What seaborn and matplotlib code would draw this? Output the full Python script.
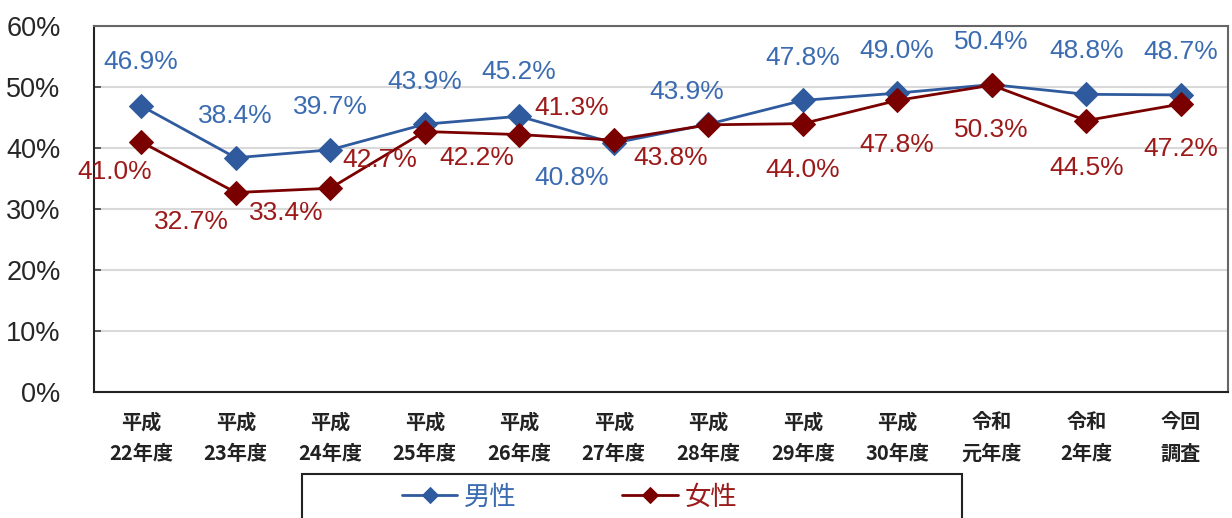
import matplotlib
matplotlib.use("Agg")
import matplotlib.pyplot as plt
import numpy as np
import pandas as pd
import seaborn as sns
from matplotlib.patches import Rectangle
from matplotlib.ticker import FixedLocator, PercentFormatter

categories = ["平成\n22年度", "平成\n23年度", "平成\n24年度", "平成\n25年度", "平成\n26年度",
              "平成\n27年度", "平成\n28年度", "平成\n29年度", "平成\n30年度", "令和\n元年度",
              "令和\n2年度", "今回\n調査"]
male = [46.9, 38.4, 39.7, 43.9, 45.2, 40.8, 43.9, 47.8, 49.0, 50.4, 48.8, 48.7]
female = [41.0, 32.7, 33.4, 42.7, 42.2, 41.3, 43.8, 44.0, 47.8, 50.3, 44.5, 47.2]
series_names = ["男性", "女性"]

# label offsets (pixels) relative to each point
male_offsets = [(0, 44), (0, 42), (0, 43), (0, 42), (0, 44), (-42, -35),
                (-22, 32), (0, 42), (0, 42), (0, 43), (0, 43), (0, 43)]
female_offsets = [(-27, -30), (-44, -29), (-44, -25), (-45, -28), (-42, -23), (-42, 32),
                  (-38, -33), (0, -46), (0, -45), (0, -45), (0, -47), (0, -45)]

line_colors = ["#2F5B9E", "#7A0000"]
text_colors = ["#3B6BB0", "#9C1A1A"]

sns.set_style("white")
plt.rcParams['font.family'] = ['Liberation Sans', 'Noto Sans CJK JP', 'DejaVu Sans']

pos = np.arange(len(categories))
df = pd.DataFrame({
    'pos': np.concatenate([pos, pos]),
    'value': np.array(male + female) / 100,
    'sex': [series_names[0]] * len(pos) + [series_names[1]] * len(pos),
})

fig = plt.figure(figsize=(12.32, 5.18), dpi=100)
ax = fig.add_axes([94 / 1232, 126 / 518, 1134 / 1232, 366 / 518])

for name, lc in zip(series_names, line_colors):
    sub = df[df['sex'] == name]
    sns.lineplot(data=sub, x='pos', y='value', ax=ax, color=lc, marker='D',
                 markersize=12, markeredgecolor=lc, linewidth=2, label=name, zorder=3)

for vals, offs, tc in [(male, male_offsets, text_colors[0]), (female, female_offsets, text_colors[1])]:
    for x, v, (dx, dy) in zip(pos, vals, offs):
        ax.annotate(f"{v:.1f}%", (x, v / 100), xytext=(dx, dy), textcoords='offset pixels',
                    ha='center', va='center', fontsize=19, color=tc, zorder=4)

ax.set_xlim(-0.5, len(categories) - 0.5)
ax.set_ylim(0, 0.6)
ax.yaxis.set_major_locator(FixedLocator(np.arange(0, 0.61, 0.1)))
ax.yaxis.set_major_formatter(PercentFormatter(1.0, decimals=0))
ax.grid(axis='y', color='#D9D9D9', linewidth=1.5, zorder=0)
ax.set_axisbelow(True)

ax.set_xticks(pos)
ax.set_xticklabels(categories, fontfamily=['Noto Sans CJK JP'], fontweight='bold',
                   fontsize=14.5, color='#222222', linespacing=1.6)
ax.xaxis.set_minor_locator(FixedLocator(np.arange(-0.5, len(categories), 1.0)))
ax.tick_params(axis='x', which='major', length=0, pad=14)
ax.tick_params(axis='x', which='minor', direction='in', length=5, width=1.2, color='#444444')
ax.tick_params(axis='y', direction='in', length=5, width=1.2, color='#444444',
               labelsize=19.5, pad=24, left=True)
ax.set_xlabel('')
ax.set_ylabel('')

for side in ['left', 'bottom']:
    ax.spines[side].set_color('#222222')
    ax.spines[side].set_linewidth(1.5)
for side in ['top', 'right']:
    ax.spines[side].set_color('#666666')
    ax.spines[side].set_linewidth(1.5)

ax.get_legend().remove()
handles, labels = ax.get_legend_handles_labels()
leg = fig.legend(handles, labels, loc='center left', bbox_to_anchor=(402 / 1232, 1 - 497 / 518),
                 ncol=2, frameon=False, handlelength=2.1, handletextpad=0.25, markerscale=0.7,
                 columnspacing=4.0, borderpad=0, borderaxespad=0,
                 prop={'family': ['Noto Sans CJK JP'], 'size': 19})
for t, tc in zip(leg.get_texts(), text_colors):
    t.set_color(tc)

fig.patches.append(Rectangle((302 / 1232, -0.1), 660 / 1232, 0.1 + 44 / 518,
                             transform=fig.transFigure, fill=False, edgecolor='#222222',
                             linewidth=1.5))

fig.savefig('out.png', dpi=100)
